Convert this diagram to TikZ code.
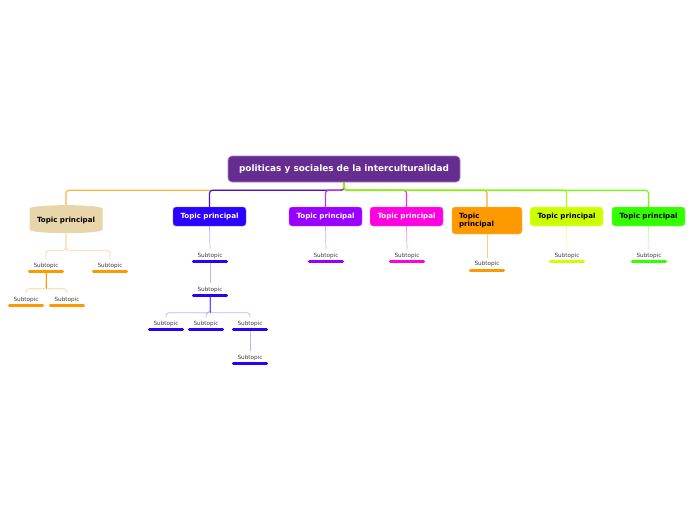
\documentclass[tikz,border=0pt]{standalone}
\usepackage{fontspec}
\setmainfont{DejaVu Sans}
\usetikzlibrary{shapes.geometric}

\definecolor{rootc}{HTML}{662D91}
\definecolor{tanc}{HTML}{E8D5A9}
\definecolor{bluec}{HTML}{2B00FF}
\definecolor{violc}{HTML}{9A00FF}
\definecolor{magc}{HTML}{FF00E0}
\definecolor{orc}{HTML}{FF9900}
\definecolor{limec}{HTML}{CCFF00}
\definecolor{grc}{HTML}{33FF00}

\begin{document}
\begin{tikzpicture}[x=1pt,y=-1pt]
\useasboundingbox (0,0) rectangle (696,520);
\begin{scope}
	\tikzstyle{every node}=[align=center, inner sep=0pt]
	\tikzstyle{topic}=[rounded corners=3pt, minimum width=73pt, minimum height=19pt, font=\fontsize{7.1}{8.5}\selectfont\bfseries]
	\tikzstyle{sub}=[minimum width=33pt, minimum height=12pt, text height=4.5pt, text depth=1pt, font=\fontsize{5.7}{6.5}\selectfont, text=black!75]
	\tikzstyle{branch}=[line width=1.2pt, rounded corners=3pt]
	\tikzstyle{twig}=[line width=0.7pt, rounded corners=3pt]
	\tikzstyle{bar}=[line width=2.6pt, line cap=round]

	\node[topic, fill=rootc, draw=rootc!60!white, line width=0.6pt, minimum width=232pt, minimum height=26pt, rounded corners=4pt, text=white, font=\fontsize{8.9}{10}\selectfont\bfseries] (root) at (344,169) {politicas y sociales de la interculturalidad};

	\node[cylinder, shape border rotate=90, aspect=0.12, fill=tanc, minimum width=73pt, minimum height=28pt, font=\fontsize{7.1}{8.5}\selectfont\bfseries] (t1) at (66,221) {Topic principal};
	\node[topic, fill=bluec, draw=bluec!60!white, text=white] (t2) at (209.5,216.5) {Topic principal};
	\node[topic, fill=violc, draw=violc!60!white, text=white] (t3) at (325.5,216.5) {Topic principal};
	\node[topic, fill=magc, draw=magc!60!white, text=white] (t4) at (406.5,216.5) {Topic principal};
	\node[topic, fill=orc, draw=orc!60!white, minimum width=70pt, minimum height=27pt, text width=56pt, align=left] (t5) at (487,220.5) {Topic\\principal};
	\node[topic, fill=limec, draw=limec!60!white] (t6) at (566.5,216.5) {Topic principal};
	\node[topic, fill=grc, draw=grc!60!white] (t7) at (648.5,216.5) {Topic principal};

	\node[sub] (s1a) at (46,265.5) {Subtopic};
	\node[sub] (s1b) at (110,265.5) {Subtopic};
	\node[sub] (s1c) at (26,299.5) {Subtopic};
	\node[sub] (s1d) at (67,299.5) {Subtopic};
	\node[sub] (s2a) at (210,255.5) {Subtopic};
	\node[sub] (s2b) at (210,289.5) {Subtopic};
	\node[sub] (s2c) at (166,323.5) {Subtopic};
	\node[sub] (s2d) at (206,323.5) {Subtopic};
	\node[sub] (s2e) at (250,323.5) {Subtopic};
	\node[sub] (s2f) at (250,357.5) {Subtopic};
	\node[sub] (s3) at (326,255.5) {Subtopic};
	\node[sub] (s4) at (407,255.5) {Subtopic};
	\node[sub] (s5) at (487,264) {Subtopic};
	\node[sub] (s6) at (567,255.5) {Subtopic};
	\node[sub] (s7) at (649,255.5) {Subtopic};

	% main branches
	\draw[branch, orc!75!white] (root.south) -- ++(0,8) -| (t1.north);
	\draw[branch, bluec!60!rootc] (root.south) -- ++(0,8) -| (t2.north);
	\draw[branch, violc!80!white] (root.south) -- ++(0,8) -| (t3.north);
	\draw[branch, magc!85!white] (root.south) -- ++(0,8) -| (t4.north);
	\draw[branch, orc!85!white] (root.south) -- ++(0,8) -| (t5.north);
	\draw[branch, limec!80!grc] (root.south) -- ++(0,8) -| (t6.north);
	\draw[branch, grc!60!limec] (root.south) -- ++(0,8) -| (t7.north);

	% subtopic links
	\draw[twig, orc!45!white] (t1.south) -- ++(0,17) -| (s1a.north);
	\draw[twig, orc!45!white] (t1.south) -- ++(0,17) -| (s1b.north);
	\draw[twig, orc!45!white] (s1a.south) -- ++(0,17) -| (s1c.north);
	\draw[twig, orc!45!white] (s1a.south) -- ++(0,17) -| (s1d.north);
	\draw[twig, orc] (s1a.south) -- ++(0,17);
	\draw[twig, bluec!30!white] (t2.south) -- (s2a.north);
	\draw[twig, bluec!30!white] (s2a.south) -- (s2b.north);
	\draw[twig, bluec!30!white] (s2b.south) -- ++(0,17) -| (s2c.north);
	\draw[twig, bluec!30!white] (s2b.south) -- ++(0,17) -| (s2d.north);
	\draw[twig, bluec!30!white] (s2b.south) -- ++(0,17) -| (s2e.north);
	\draw[line width=1pt, bluec!70!white] (s2b.south) -- ++(0,17);
	\draw[twig, bluec!30!white] (s2e.south) -- (s2f.north);
	\draw[twig, violc!35!white] (t3.south) -- (s3.north);
	\draw[twig, magc!45!white] (t4.south) -- (s4.north);
	\draw[twig, orc!50!white] (t5.south) -- (s5.north);
	\draw[twig, limec!40!white] (t6.south) -- (s6.north);
	\draw[twig, grc!40!white] (t7.south) -- (s7.north);

	% underline bars
	\foreach \n/\c in {s1a/orc, s1b/orc, s1c/orc, s1d/orc, s2a/bluec, s2b/bluec, s2c/bluec, s2d/bluec, s2e/bluec, s2f/bluec, s3/violc, s4/magc, s5/orc, s6/limec, s7/grc}
		\draw[bar, \c] (\n.south west) -- (\n.south east);
\end{scope}
\end{tikzpicture}
\end{document}
